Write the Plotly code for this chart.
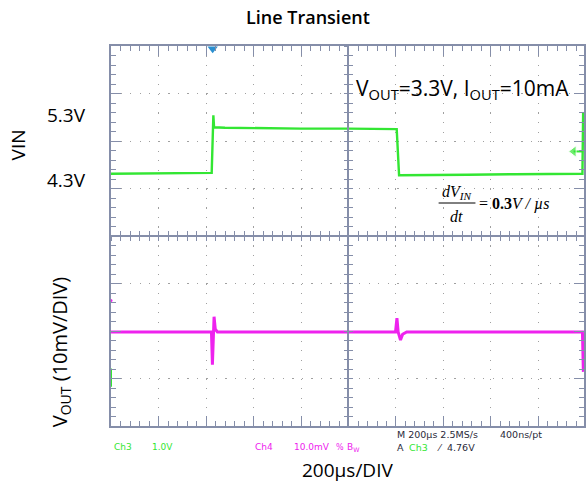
import plotly.graph_objects as go

# ---------------- data ----------------
# time in microseconds from the left edge of the screen (200 us / div)
vin_t = [0, 150, 300, 424, 431, 434, 480, 600, 800, 1000, 1150, 1203, 1213, 1300, 1500, 1700, 1900, 1985, 1988]
vin_v = [4.29, 4.30, 4.30, 4.31, 5.52, 5.27, 5.26, 5.25, 5.24, 5.24, 5.23, 5.23, 4.26, 4.26, 4.27, 4.28, 4.29, 4.29, 5.57]

vout_t = [0, 200, 423, 427, 430, 434, 439, 448, 800, 1198, 1204, 1209, 1219, 1228, 1245, 1600, 1985, 1989]
vout_mv = [0, 0, 0, -6.9, -0.5, 3.2, 0.6, 0, 0, 0, 2.9, 0, -1.7, -0.5, 0, 0, 0, -8.4]

trigger_t = 428
trigger_level = 4.76
ch4_marker_mv = 6.6

x_labels = ["200µs/DIV"]
vin_labels = ["5.3V", "4.3V"]

# ---------------- layout geometry ----------------
W, H = 586, 493
L, R, T, B = 111, 0, 46, 67
PW, PH = W - L - R, H - T - B
DIV_X = 47.7            # px per horizontal division
X_MAX = PW / DIV_X * 200
VIN_RANGE = [-1.02, 6.98]
VOUT_RANGE = [-19.8, 60.2]

BORDER = "#858ea9"
GRID = "#a0a0a0"
GREEN = "#33e633"
MAGENTA = "#ee22ee"
FONT = "Open Sans"


def px(x):
    return (x - L) / PW


def py(y):
    return (H - B - y) / PH


fig = go.Figure()

fig.add_trace(go.Scatter(x=vin_t, y=vin_v, mode="lines", line=dict(color=GREEN, width=2.4),
                         yaxis="y", hoverinfo="skip", showlegend=False))
fig.add_trace(go.Scatter(x=vout_t, y=vout_mv, mode="lines", line=dict(color=MAGENTA, width=3),
                         yaxis="y2", hoverinfo="skip", showlegend=False))

# trigger position marker (top) and trigger level marker (right)
fig.add_trace(go.Scatter(x=[trigger_t], y=[VIN_RANGE[1] - 0.06], mode="markers",
                         marker=dict(symbol="triangle-down", size=9, color="#2a8fd0"),
                         cliponaxis=False, hoverinfo="skip", showlegend=False))
fig.add_trace(go.Scatter(x=[1948, 1985], y=[trigger_level, trigger_level], mode="lines+markers",
                         line=dict(color=GREEN, width=2),
                         marker=dict(symbol=["triangle-left", "circle"], size=[10, 0], color=GREEN),
                         hoverinfo="skip", showlegend=False))
# channel ground / offset markers on left border
fig.add_trace(go.Scatter(x=[0], y=[0], mode="markers",
                         marker=dict(symbol="line-ns", size=13, line=dict(color=GREEN, width=2)),
                         cliponaxis=False, hoverinfo="skip", showlegend=False))
fig.add_trace(go.Scatter(x=[0], y=[ch4_marker_mv], yaxis="y2", mode="markers",
                         marker=dict(symbol="circle", size=3, color=MAGENTA),
                         cliponaxis=False, hoverinfo="skip", showlegend=False))
# invisible traces to anchor cross-hair axes
fig.add_trace(go.Scatter(x=[None], y=[None], xaxis="x2", yaxis="y", showlegend=False, hoverinfo="skip"))
fig.add_trace(go.Scatter(x=[None], y=[None], xaxis="x3", yaxis="y", showlegend=False, hoverinfo="skip"))
fig.add_trace(go.Scatter(x=[None], y=[None], xaxis="x", yaxis="y3", showlegend=False, hoverinfo="skip"))
fig.add_trace(go.Scatter(x=[None], y=[None], xaxis="x", yaxis="y4", showlegend=False, hoverinfo="skip"))

common_hidden = dict(showticklabels=False, zeroline=False)

fig.update_layout(
    width=W, height=H, margin=dict(l=L, r=R, t=T, b=B, pad=0),
    paper_bgcolor="white", plot_bgcolor="white",
    xaxis=dict(range=[0, X_MAX], dtick=200, tick0=0, showline=True, linecolor=BORDER, linewidth=2,
               mirror="ticks", ticks="inside", ticklen=10, tickwidth=1, tickcolor=BORDER,
               showgrid=True, gridcolor=GRID, gridwidth=1.3, griddash="1.3px,8.2px",
               minor=dict(dtick=40, tick0=0, ticks="inside", ticklen=5, tickcolor=BORDER, tickwidth=1,
                          showgrid=False),
               **common_hidden),
    yaxis=dict(range=VIN_RANGE, dtick=1, tick0=-0.02, showline=True, linecolor=BORDER, linewidth=2,
               mirror="ticks", ticks="inside", ticklen=10, tickwidth=1, tickcolor=BORDER,
               showgrid=True, gridcolor=GRID, gridwidth=1.3, griddash="1.3px,8.24px",
               minor=dict(dtick=0.2, tick0=-0.02, ticks="inside", ticklen=5, tickcolor=BORDER, tickwidth=1,
                          showgrid=False),
               **common_hidden),
    yaxis2=dict(range=VOUT_RANGE, overlaying="y", showgrid=False, showline=False, ticks="",
                **common_hidden),
    xaxis2=dict(range=[0, X_MAX], overlaying="x", anchor="free", position=0.5, showline=True,
                linecolor=BORDER, linewidth=1.5, ticks="inside", ticklen=4, tickcolor=BORDER,
                dtick=40, tick0=0, showgrid=False, **common_hidden),
    xaxis3=dict(range=[0, X_MAX], overlaying="x", anchor="free", position=0.5, showline=False,
                ticks="outside", ticklen=4, tickcolor=BORDER, dtick=40, tick0=0, showgrid=False,
                **common_hidden),
    yaxis3=dict(range=VIN_RANGE, overlaying="y", anchor="free", position=5 * DIV_X / PW,
                showline=True, linecolor=BORDER, linewidth=1.5, ticks="inside", ticklen=4,
                tickcolor=BORDER, dtick=0.2, tick0=-0.02, showgrid=False, **common_hidden),
    yaxis4=dict(range=VIN_RANGE, overlaying="y", anchor="free", position=5 * DIV_X / PW,
                showline=False, ticks="outside", ticklen=4, tickcolor=BORDER, dtick=0.2, tick0=-0.02,
                showgrid=False, **common_hidden),
    font=dict(family=FONT, color="black"),
)

ann = []


def add(text, x, y, size, color="black", xanchor="center", family=FONT, angle=0, weight=None):
    f = dict(size=size, color=color, family=family)
    if weight:
        f["weight"] = weight
    ann.append(dict(text=text, x=px(x), y=py(y), xref="paper", yref="paper", showarrow=False,
                    xanchor=xanchor, yanchor="middle", textangle=angle, font=f))


add("Line Transient", 309, 17, 18, weight=600)
add("VIN", 18, 145, 19, angle=-90)
add(vin_labels[0], 66, 115, 19)
add(vin_labels[1], 66, 180, 19)
add("V<sub>OUT</sub> (10mV/DIV)", 60, 352, 20, angle=-90)
add(x_labels[0], 348, 470, 19)
add("V<sub>OUT</sub>=3.3V, I<sub>OUT</sub>=10mA", 355, 89, 21, xanchor="left")

# dV/dt formula
SERIF = "Liberation Serif"
add("<i>dV<sub>IN</sub></i>", 458, 192, 16, family=SERIF)
add("<i>dt</i>", 458, 217, 16, family=SERIF)
add("= <b>0.3</b><i>V / µs</i>", 479, 204, 16, xanchor="left", family=SERIF)
fig.add_shape(type="line", xref="paper", yref="paper", x0=px(440), x1=px(477), y0=py(203), y1=py(203),
              line=dict(color="black", width=1))

# scope readout text
SC = "DejaVu Sans"
DARK = "#2a2a3a"
add("Ch3", 112, 447, 9, GREEN, "left", SC)
add("1.0V", 150, 447, 9, GREEN, "left", SC)
add("Ch4", 254, 447, 9, MAGENTA, "left", SC)
add("10.0mV", 293, 447, 9, MAGENTA, "left", SC)
add("%", 335, 447, 8, MAGENTA, "left", SC)
add("B<sub>W</sub>", 346, 447, 9, MAGENTA, "left", SC)
add("M 200µs 2.5MS/s", 396, 434, 9.5, DARK, "left", SC)
add("400ns/pt", 500, 434, 9.5, DARK, "left", SC)
add("A", 396, 447, 9.5, DARK, "left", SC)
add("Ch3", 408, 447, 9.5, GREEN, "left", SC)
add("⁄", 436, 447, 9.5, DARK, "left", SC)
add("4.76V", 446, 447, 9.5, DARK, "left", SC)

fig.update_layout(annotations=ann)
fig.write_html("out.html", config={"displayModeBar": False},
               post_script="document.body.style.margin='0';document.body.style.overflow='hidden';")
